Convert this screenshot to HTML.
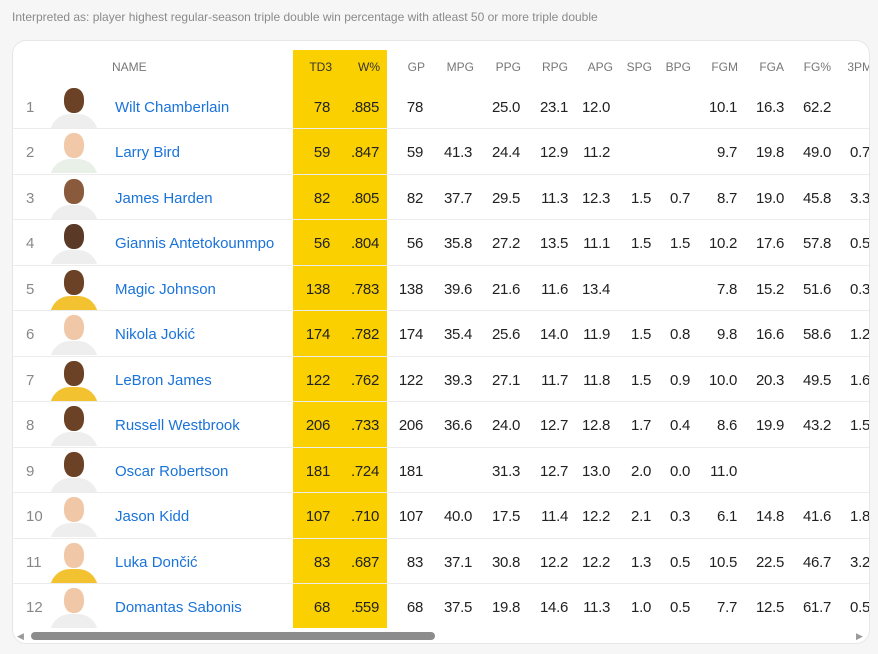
<!DOCTYPE html>
<html><head><meta charset="utf-8"><style>
*{margin:0;padding:0;box-sizing:border-box}
body{width:878px;height:654px;background:#f6f6f6;font-family:"Liberation Sans",sans-serif;position:relative;overflow:hidden}
.top{position:absolute;left:12px;top:10px;font-size:12px;color:#8a8a8a}
.card{position:absolute;left:12px;top:40px;width:858px;height:604px;background:#fff;border:1px solid #e6e6e6;border-radius:14px;overflow:hidden}
.yel{position:absolute;left:280px;top:9px;width:94px;height:578px;background:#fbd000}
.hd{position:absolute;top:19px;font-size:12px;color:#777}
.row{position:absolute;left:0;width:866px;height:46px;border-top:1px solid #ececec}
.c{position:absolute;font-size:15px;color:#222;letter-spacing:-0.3px}
.r{text-align:right}
.rk{position:absolute;left:13px;font-size:15px;color:#888}
.nm{position:absolute;left:102px;font-size:15px;color:#1a73d9}
.av{position:absolute;left:36px;width:50px;height:42px;overflow:hidden}
.av .h{position:absolute;left:15px;top:2px;width:20px;height:25px;border-radius:45%}
.av .j{position:absolute;left:1px;top:28px;width:48px;height:24px;border-radius:20px 20px 0 0}
.sb{position:absolute;left:18px;top:591px;width:404px;height:8px;border-radius:4px;background:#8c8c8c}
</style></head><body>
<div class="top">Interpreted as: player highest regular-season triple double win percentage with atleast 50 or more triple double</div>
<div class="card">
<div class="yel"></div>
<div id="t"></div>
<div class="sb"></div>
<div style="position:absolute;left:4px;top:590px;font-size:9px;color:#999">◀</div>
<div style="position:absolute;left:843px;top:590px;font-size:9px;color:#999">▶</div>
</div>
<script>
const OX=13,OY=41;
const hdr=[["NAME",112,"l"],["TD3",332],["W%",380],["GP",425],["MPG",474],["PPG",521],["RPG",568],["APG",613],["SPG",652],["BPG",691],["FGM",738],["FGA",784],["FG%",831],["3PM",872]];
const rx=[330,379,423,472,520,568,610,651,690,737,784,831,870];
const data=[
["Wilt Chamberlain","78",".885","78","","25.0","23.1","12.0","","","10.1","16.3","62.2","","#6b4226","#eee"],
["Larry Bird","59",".847","59","41.3","24.4","12.9","11.2","","","9.7","19.8","49.0","0.7","#f2c9a8","#e8f0e8"],
["James Harden","82",".805","82","37.7","29.5","11.3","12.3","1.5","0.7","8.7","19.0","45.8","3.3","#8a5a3c","#eee"],
["Giannis Antetokounmpo","56",".804","56","35.8","27.2","13.5","11.1","1.5","1.5","10.2","17.6","57.8","0.5","#5a3a26","#eee"],
["Magic Johnson","138",".783","138","39.6","21.6","11.6","13.4","","","7.8","15.2","51.6","0.3","#6b4226","#f2c230"],
["Nikola Jokić","174",".782","174","35.4","25.6","14.0","11.9","1.5","0.8","9.8","16.6","58.6","1.2","#f0c8a8","#eee"],
["LeBron James","122",".762","122","39.3","27.1","11.7","11.8","1.5","0.9","10.0","20.3","49.5","1.6","#6b4226","#f2c230"],
["Russell Westbrook","206",".733","206","36.6","24.0","12.7","12.8","1.7","0.4","8.6","19.9","43.2","1.5","#6b4226","#eee"],
["Oscar Robertson","181",".724","181","","31.3","12.7","13.0","2.0","0.0","11.0","","","","#6b4226","#eee"],
["Jason Kidd","107",".710","107","40.0","17.5","11.4","12.2","2.1","0.3","6.1","14.8","41.6","1.8","#f0c8a8","#eee"],
["Luka Dončić","83",".687","83","37.1","30.8","12.2","12.2","1.3","0.5","10.5","22.5","46.7","3.2","#f0c8a8","#f2c230"],
["Domantas Sabonis","68",".559","68","37.5","19.8","14.6","11.3","1.0","0.5","7.7","12.5","61.7","0.5","#f0c8a8","#eee"]];
let h="";
hdr.forEach(([t,x,a])=>{h+=a?`<div class="hd" style="left:${x-OX}px">${t}</div>`:`<div class="hd r" style="left:${x-60-OX}px;width:60px;${t=='TD3'||t=='W%'?'color:#333':''}">${t}</div>`});
data.forEach((d,i)=>{const y=83+i*45.45-OY;const ty=y+16;
 if(i>0)h+=`<div class="row" style="top:${y}px"></div>`;
 h+=`<div class="rk" style="top:${ty}px">${i+1}</div>`;
 h+=`<div class="av" style="top:${y+3}px"><div class="j" style="background:${d[15]}"></div><div class="h" style="background:${d[14]}"></div></div>`;
 h+=`<div class="nm" style="top:${ty}px">${d[0]}</div>`;
 for(let k=1;k<=13;k++)if(d[k])h+=`<div class="c r" style="top:${ty}px;left:${rx[k-1]-60-OX}px;width:60px">${d[k]}</div>`;
});
document.getElementById("t").innerHTML=h;
</script>
</body></html>
